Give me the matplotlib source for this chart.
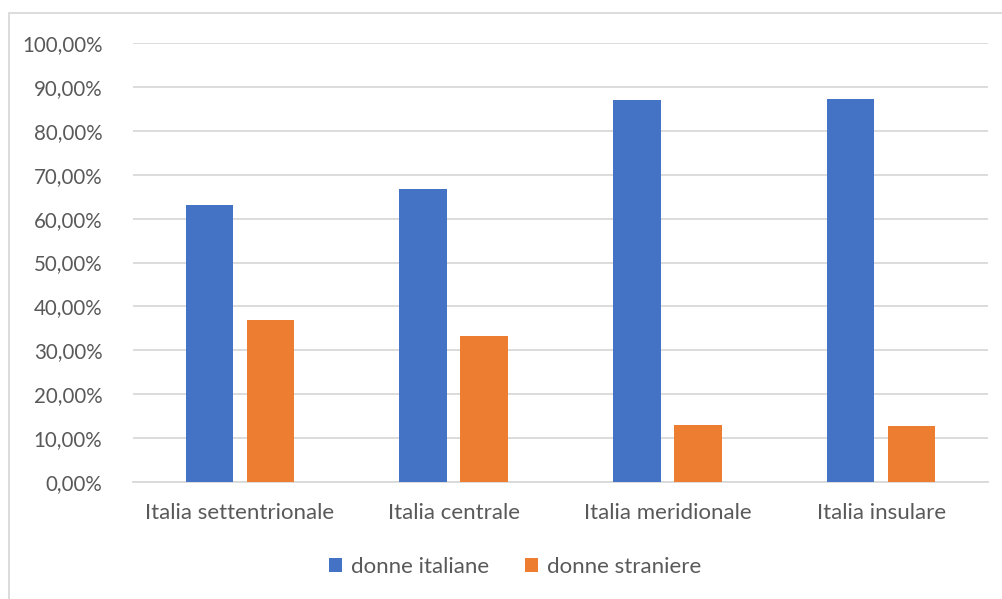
import matplotlib.pyplot as plt
import numpy as np
from matplotlib.patches import Rectangle
from matplotlib.ticker import FuncFormatter

categories = ["Italia settentrionale", "Italia centrale", "Italia meridionale", "Italia insulare"]
donne_italiane = [63.2, 66.8, 87.1, 87.3]
donne_straniere = [36.8, 33.2, 12.9, 12.7]
y_ticks = [0, 10, 20, 30, 40, 50, 60, 70, 80, 90, 100]

BLUE = "#4472C4"
ORANGE = "#ED7D31"
TEXT = "#595959"
GRID = "#D9D9D9"

plt.rcParams["font.family"] = ["Lato", "DejaVu Sans"]

fig = plt.figure(figsize=(10.03, 5.99), dpi=100)
ax = fig.add_axes([0.1326, 0.1953, 0.8524, 0.7329])

# outer chart border
fig.patches.append(Rectangle((9 / 1003, -0.1), 1.2, 1 - 13 / 599 + 0.1,
                             transform=fig.transFigure, fill=False,
                             edgecolor=GRID, linewidth=1.3))

x = np.arange(len(categories))
w = 0.222
off = 0.1427
ax.bar(x - off, donne_italiane, w, color=BLUE, label="donne italiane", zorder=3)
ax.bar(x + off, donne_straniere, w, color=ORANGE, label="donne straniere", zorder=3)

ax.set_xlim(-0.5, 3.5)
ax.set_ylim(0, 100)
ax.set_yticks(y_ticks)
ax.yaxis.set_major_formatter(FuncFormatter(lambda v, p: f"{v:.2f}%".replace(".", ",")))
ax.set_xticks(x)
ax.set_xticklabels(categories)
ax.tick_params(axis="both", length=0, labelcolor=TEXT)
ax.tick_params(axis="y", pad=22, labelsize=14.8)
ax.tick_params(axis="x", pad=15, labelsize=16)
ax.grid(axis="y", color=GRID, linewidth=1.3, zorder=0)
for side in ("top", "right", "left"):
    ax.spines[side].set_visible(False)
ax.spines["bottom"].set_color(GRID)
ax.spines["bottom"].set_linewidth(1.3)

fig.legend(loc="center", bbox_to_anchor=(515 / 1003, 1 - 567 / 599), ncol=2,
           frameon=False, fontsize=16, labelcolor=TEXT, handlelength=0.6,
           handleheight=0.6, handletextpad=0.4, columnspacing=1.6)

fig.savefig("out.png", dpi=100)
